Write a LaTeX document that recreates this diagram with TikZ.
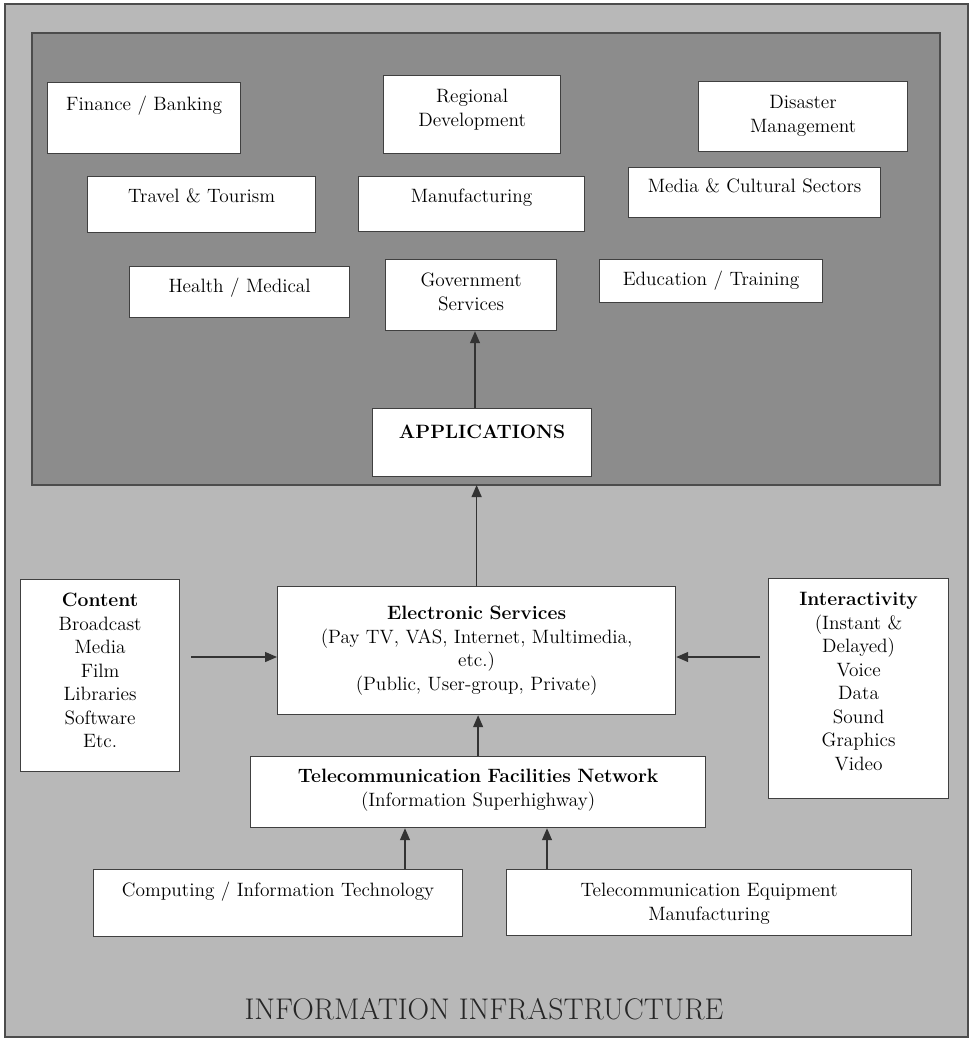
\documentclass[tikz,border=0pt]{standalone}
\usetikzlibrary{arrows.meta}

\tikzset{
  box/.style={draw=black!75, line width=0.7pt, fill=white, align=center,
    inner sep=0pt, text=black, font=\fontsize{11}{13.4}\selectfont},
  arr/.style={draw=black!80, line width=0.75pt, -{Triangle[length=2.4mm,width=2mm]}}
}

\begin{document}
\begin{tikzpicture}
\useasboundingbox (0,0) rectangle (19.46,-20.8);

% frames
\draw[black!70, line width=0.8pt, fill=black!28] (0.1,-0.08) rectangle (19.36,-20.74);
\draw[black!70, line width=0.7pt, fill=black!45] (0.64,-0.66) rectangle (18.8,-9.7);
\coordinate (appsbot) at (9.5,-9.7);

% sectors
\node[box, anchor=north west, text width=3.86cm, text height=0.56cm, text depth=0.86cm] (fin) at (0.94,-1.64) {Finance / Banking};
\node[box, anchor=north west, text width=3.54cm, text height=0.54cm, text depth=1.02cm] (reg) at (7.66,-1.5) {Regional\\Development};
\node[box, anchor=north west, text width=4.18cm, text height=0.54cm, text depth=0.86cm] (dis) at (13.96,-1.62) {Disaster\\Management};
\node[box, anchor=north west, text width=4.56cm, text height=0.52cm, text depth=0.6cm] (trv) at (1.74,-3.52) {Travel \& Tourism};
\node[box, anchor=north west, text width=4.52cm, text height=0.52cm, text depth=0.58cm] (man) at (7.16,-3.52) {Manufacturing};
\node[box, anchor=north west, text width=5.04cm, text height=0.5cm, text depth=0.5cm] (med) at (12.56,-3.34) {Media \& Cultural Sectors};
\node[box, anchor=north west, text width=4.4cm, text height=0.52cm, text depth=0.5cm] (hea) at (2.58,-5.32) {Health / Medical};
\node[box, anchor=north west, text width=3.42cm, text height=0.54cm, text depth=0.88cm] (gov) at (7.7,-5.18) {Government\\Services};
\node[box, anchor=north west, text width=4.46cm, text height=0.52cm, text depth=0.34cm] (edu) at (11.98,-5.18) {Education / Training};
\node[box, anchor=north west, text width=4.38cm, text height=0.6cm, text depth=0.76cm] (app) at (7.44,-8.16) {\textbf{APPLICATIONS}};

% services and inputs
\node[box, anchor=north west, text width=3.18cm, text height=0.54cm, text depth=3.3cm] (con) at (0.4,-11.58)
  {\textbf{Content}\\Broadcast\\Media\\Film\\Libraries\\Software\\Etc.};
\node[box, anchor=north west, text width=7.96cm, text height=0.66cm, text depth=1.9cm] (es) at (5.54,-11.72)
  {\textbf{Electronic Services}\\(Pay TV, VAS, Internet, Multimedia,\\etc.)\\(Public, User-group, Private)};
\node[box, anchor=north west, text width=3.6cm, text height=0.54cm, text depth=3.86cm] (int) at (15.36,-11.56)
  {\textbf{Interactivity}\\(Instant \&\\Delayed)\\Voice\\Data\\Sound\\Graphics\\Video};
\node[box, anchor=north west, text width=9.1cm, text height=0.52cm, text depth=0.9cm] (tfn) at (5.0,-15.12)
  {\textbf{Telecommunication Facilities Network}\\(Information Superhighway)};
\node[box, anchor=north west, text width=7.38cm, text height=0.54cm, text depth=0.8cm] (cmp) at (1.86,-17.38)
  {Computing / Information Technology};
\node[box, anchor=north west, text width=8.1cm, text height=0.54cm, text depth=0.78cm] (teq) at (10.12,-17.38)
  {Telecommunication Equipment\\Manufacturing};

\node[anchor=base, text=black!85, font=\fontsize{17}{20}\selectfont] (title) at (9.68,-20.38) {INFORMATION INFRASTRUCTURE};

% arrows
\coordinate (cin) at (3.82,-13.14);
\coordinate (iin) at (15.2,-13.14);
\coordinate (gin) at (9.5,-8.16);
\coordinate (cup) at (8.1,-17.38);
\coordinate (tup) at (10.94,-17.38);

\draw[arr] (gin) -- (gin |- gov.south);
\draw[arr] (es.north) -- (es.north |- appsbot);
\draw[arr] (cin) -- (cin -| es.west);
\draw[arr] (iin) -- (iin -| es.east);
\draw[arr] (tfn.north) -- (tfn.north |- es.south);
\draw[arr] (cup) -- (cup |- tfn.south);
\draw[arr] (tup) -- (tup |- tfn.south);

\end{tikzpicture}
\end{document}
